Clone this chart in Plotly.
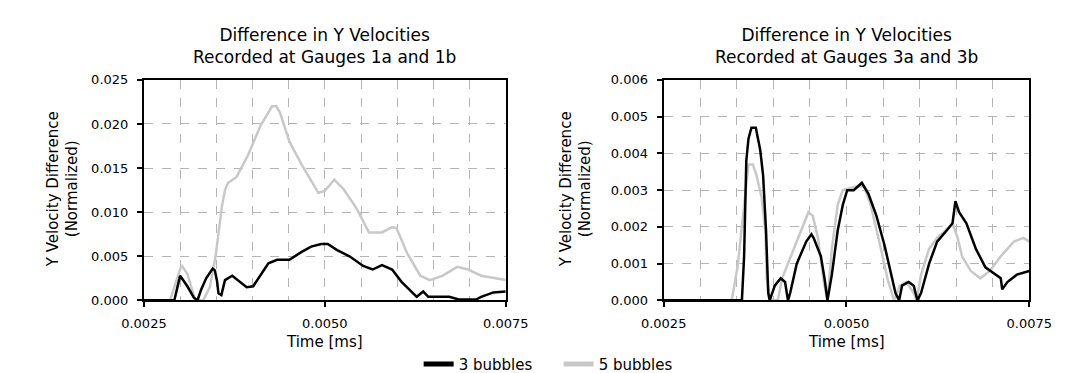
import plotly.graph_objects as go

# ---------------- data ----------------
# Left panel: Gauges 1a and 1b
left_t_3 = [0.00250, 0.00292, 0.00300, 0.00310, 0.00319, 0.00324, 0.00329, 0.00336, 0.00345, 0.00348,
            0.00351, 0.00353, 0.00357, 0.00362, 0.00372, 0.00381, 0.00392, 0.00401, 0.00411, 0.00422,
            0.00434, 0.00451, 0.00468, 0.00481, 0.00495, 0.00504, 0.00517, 0.00534, 0.00553, 0.00566,
            0.00579, 0.00593, 0.00606, 0.00619, 0.00627, 0.00636, 0.00643, 0.00672, 0.00685, 0.00709,
            0.00716, 0.00733, 0.00750]
left_v_3 = [0.0, 0.0, 0.0028, 0.0016, 0.0003, 0.0, 0.0012, 0.0025, 0.0036, 0.0034,
            0.0022, 0.0008, 0.0006, 0.0023, 0.0028, 0.0022, 0.0015, 0.0016, 0.0028, 0.0042,
            0.0046, 0.0046, 0.0055, 0.0061, 0.0064, 0.0064, 0.0057, 0.0050, 0.0039, 0.0035,
            0.0040, 0.0035, 0.0021, 0.0010, 0.0004, 0.0010, 0.0004, 0.0004, 0.0001, 0.0001,
            0.0004, 0.0009, 0.0010]

left_t_5 = [0.00250, 0.00286, 0.00294, 0.00302, 0.00310, 0.00316, 0.00321, 0.00332, 0.00341, 0.00349,
            0.00355, 0.00358, 0.00362, 0.00366, 0.00378, 0.00394, 0.00411, 0.00421, 0.00427, 0.00433,
            0.00438, 0.00451, 0.00468, 0.00491, 0.00500, 0.00513, 0.00526, 0.00544, 0.00561, 0.00579,
            0.00593, 0.00599, 0.00614, 0.00632, 0.00645, 0.00663, 0.00683, 0.00698, 0.00716, 0.00750]
left_v_5 = [0.0, 0.0, 0.0020, 0.0040, 0.0030, 0.0012, 0.0, 0.0, 0.0015, 0.0050,
            0.0085, 0.0108, 0.0125, 0.0133, 0.0140, 0.0165, 0.0198, 0.0212, 0.0220, 0.0220,
            0.0213, 0.0180, 0.0154, 0.0122, 0.0124, 0.0137, 0.0126, 0.0104, 0.0077, 0.0077,
            0.0083, 0.0082, 0.0053, 0.0028, 0.0023, 0.0028, 0.0038, 0.0035, 0.0028, 0.0023]

# Right panel: Gauges 3a and 3b
right_t_3 = [0.00250, 0.00357, 0.00360, 0.00363, 0.00366, 0.00370, 0.00376, 0.00382, 0.00386, 0.00390,
             0.00393, 0.00395, 0.00402, 0.00410, 0.00416, 0.00420, 0.00423, 0.00432, 0.00445, 0.00452,
             0.00455, 0.00465, 0.00470, 0.00474, 0.00480, 0.00488, 0.00495, 0.00501, 0.00510, 0.00521,
             0.00530, 0.00541, 0.00552, 0.00560, 0.00567, 0.00572, 0.00576, 0.00585, 0.00592, 0.00597,
             0.00602, 0.00613, 0.00624, 0.00637, 0.00645, 0.00649, 0.00654, 0.00664, 0.00677, 0.00690,
             0.00703, 0.00711, 0.00713, 0.00720, 0.00733, 0.00750]
right_v_3 = [0.0, 0.0, 0.0012, 0.0038, 0.0044, 0.0047, 0.0047, 0.0041, 0.0034, 0.0019,
             0.0002, 0.0, 0.0004, 0.0006, 0.0005, 0.0, 0.0002, 0.0010, 0.0016, 0.0018,
             0.0017, 0.0012, 0.0006, 0.0, 0.0007, 0.0019, 0.0026, 0.0030, 0.0030, 0.0032,
             0.0029, 0.0023, 0.0015, 0.0008, 0.0002, 0.0, 0.0004, 0.0005, 0.0004, 0.0,
             0.0002, 0.0010, 0.0016, 0.0019, 0.0021, 0.0027, 0.0024, 0.0021, 0.0014, 0.0009,
             0.0007, 0.0006, 0.0003, 0.0005, 0.0007, 0.0008]

right_t_5 = [0.00250, 0.00343, 0.00351, 0.00360, 0.00366, 0.00372, 0.00377, 0.00384, 0.00389, 0.00391,
             0.00395, 0.00399, 0.00406, 0.00412, 0.00428, 0.00441, 0.00448, 0.00454, 0.00461, 0.00469,
             0.00474, 0.00480, 0.00488, 0.00495, 0.00514, 0.00524, 0.00533, 0.00546, 0.00556, 0.00565,
             0.00573, 0.00582, 0.00592, 0.00596, 0.00602, 0.00613, 0.00624, 0.00641, 0.00645, 0.00652,
             0.00658, 0.00670, 0.00683, 0.00696, 0.00711, 0.00729, 0.00742, 0.00750]
right_v_5 = [0.0, 0.0, 0.0009, 0.0026, 0.0037, 0.0037, 0.0034, 0.0028, 0.0019, 0.0006,
             0.0001, 0.0, 0.0, 0.0006, 0.0014, 0.0021, 0.0024, 0.0023, 0.0017, 0.0005,
             0.0, 0.0014, 0.0026, 0.0030, 0.0031, 0.0031, 0.0026, 0.0015, 0.0006, 0.0,
             0.0004, 0.0005, 0.0002, 0.0, 0.0007, 0.0014, 0.0017, 0.0020, 0.0021, 0.0017,
             0.0012, 0.0008, 0.0006, 0.0008, 0.0012, 0.0016, 0.0017, 0.0016]

series_names = ["3 bubbles", "5 bubbles"]
titles = ["Difference in Y Velocities<br>Recorded at Gauges 1a and 1b",
          "Difference in Y Velocities<br>Recorded at Gauges 3a and 3b"]
x_title = "Time [ms]"
y_title = "Y Velocity Difference<br>(Normalized)"

# ---------------- styling ----------------
W, H = 1073, 373
BLACK = "#000000"
GRAY = "#c8c8c8"
GRID = "#b4b4b4"
FONT = "DejaVu Sans, Verdana, sans-serif"
TICK_SIZE = 13
LABEL_SIZE = 15
TITLE_SIZE = 17

def px_x(p):
    return p / W

def px_y(p):
    return 1 - p / H

fig = go.Figure()

# data traces (gray below black)
fig.add_trace(go.Scatter(x=left_t_5, y=left_v_5, mode="lines", line=dict(color=GRAY, width=2.5),
                         xaxis="x", yaxis="y", showlegend=False, hoverinfo="skip"))
fig.add_trace(go.Scatter(x=left_t_3, y=left_v_3, mode="lines", line=dict(color=BLACK, width=2.5),
                         xaxis="x", yaxis="y", showlegend=False, hoverinfo="skip"))
fig.add_trace(go.Scatter(x=right_t_5, y=right_v_5, mode="lines", line=dict(color=GRAY, width=2.5),
                         xaxis="x2", yaxis="y2", showlegend=False, hoverinfo="skip"))
fig.add_trace(go.Scatter(x=right_t_3, y=right_v_3, mode="lines", line=dict(color=BLACK, width=2.5),
                         xaxis="x2", yaxis="y2", showlegend=False, hoverinfo="skip"))

# legend entries
fig.add_trace(go.Scatter(x=[None], y=[None], mode="lines", name=series_names[0],
                         line=dict(color=BLACK, width=5), xaxis="x", yaxis="y"))
fig.add_trace(go.Scatter(x=[None], y=[None], mode="lines", name=series_names[1],
                         line=dict(color=GRAY, width=5), xaxis="x", yaxis="y"))

ydom = [px_y(299), px_y(68)]

def xaxis_cfg(x0, x1, anchor):
    return dict(domain=[px_x(x0), px_x(x1)], anchor=anchor, range=[0.0025, 0.0075],
                tickmode="linear", tick0=0.0025, dtick=0.0025, tickformat=".4f",
                showline=True, linecolor=BLACK, linewidth=2, mirror=True,
                ticks="outside", ticklen=5, tickcolor=BLACK, tickwidth=1.5,
                ticklabelstandoff=5,
                showgrid=True, gridcolor=GRID, griddash="dash", gridwidth=1,
                minor=dict(tick0=0.0025, dtick=0.0005, showgrid=True, gridcolor=GRID,
                           griddash="dash", gridwidth=1, ticks=""),
                zeroline=False, tickfont=dict(family=FONT, size=TICK_SIZE, color=BLACK))

def yaxis_cfg(anchor, ymax, dtick, fmt):
    return dict(domain=ydom, anchor=anchor, range=[0, ymax],
                tickmode="linear", tick0=0, dtick=dtick, tickformat=fmt,
                showline=True, linecolor=BLACK, linewidth=2, mirror=True,
                ticks="outside", ticklen=5, tickcolor=BLACK, tickwidth=1.5,
                ticklabelstandoff=6,
                showgrid=True, gridcolor=GRID, griddash="dash", gridwidth=1,
                zeroline=False, tickfont=dict(family=FONT, size=TICK_SIZE, color=BLACK))

fig.update_layout(
    width=W, height=H,
    margin=dict(l=0, r=0, t=0, b=0),
    paper_bgcolor="white", plot_bgcolor="white",
    font=dict(family=FONT, color=BLACK),
    xaxis=xaxis_cfg(118, 496, "y"),
    yaxis=yaxis_cfg("x", 0.025, 0.005, ".3f"),
    xaxis2=xaxis_cfg(661, 1043, "y2"),
    yaxis2=yaxis_cfg("x2", 0.006, 0.001, ".3f"),
    showlegend=True,
    legend=dict(orientation="h", x=px_x(405), y=px_y(366), xanchor="left", yanchor="middle",
                font=dict(family=FONT, size=LABEL_SIZE, color=BLACK), bgcolor="rgba(0,0,0,0)",
                itemwidth=30, tracegroupgap=0, entrywidth=95, entrywidthmode="pixels"),
)

annotations = []
for cx, title in zip([307, 852], titles):
    annotations.append(dict(text=title, x=px_x(cx), y=px_y(32), xref="paper", yref="paper",
                            xanchor="center", yanchor="middle", showarrow=False,
                            font=dict(family=FONT, size=TITLE_SIZE, color=BLACK)))
    annotations.append(dict(text=x_title, x=px_x(cx), y=px_y(343), xref="paper", yref="paper",
                            xanchor="center", yanchor="middle", showarrow=False,
                            font=dict(family=FONT, size=LABEL_SIZE, color=BLACK)))
for cx in [33, 569]:
    annotations.append(dict(text=y_title, x=px_x(cx), y=px_y(183), xref="paper", yref="paper",
                            xanchor="center", yanchor="middle", showarrow=False, textangle=-90,
                            font=dict(family=FONT, size=LABEL_SIZE, color=BLACK)))
fig.update_layout(annotations=annotations)

fig.write_html("out.html")
